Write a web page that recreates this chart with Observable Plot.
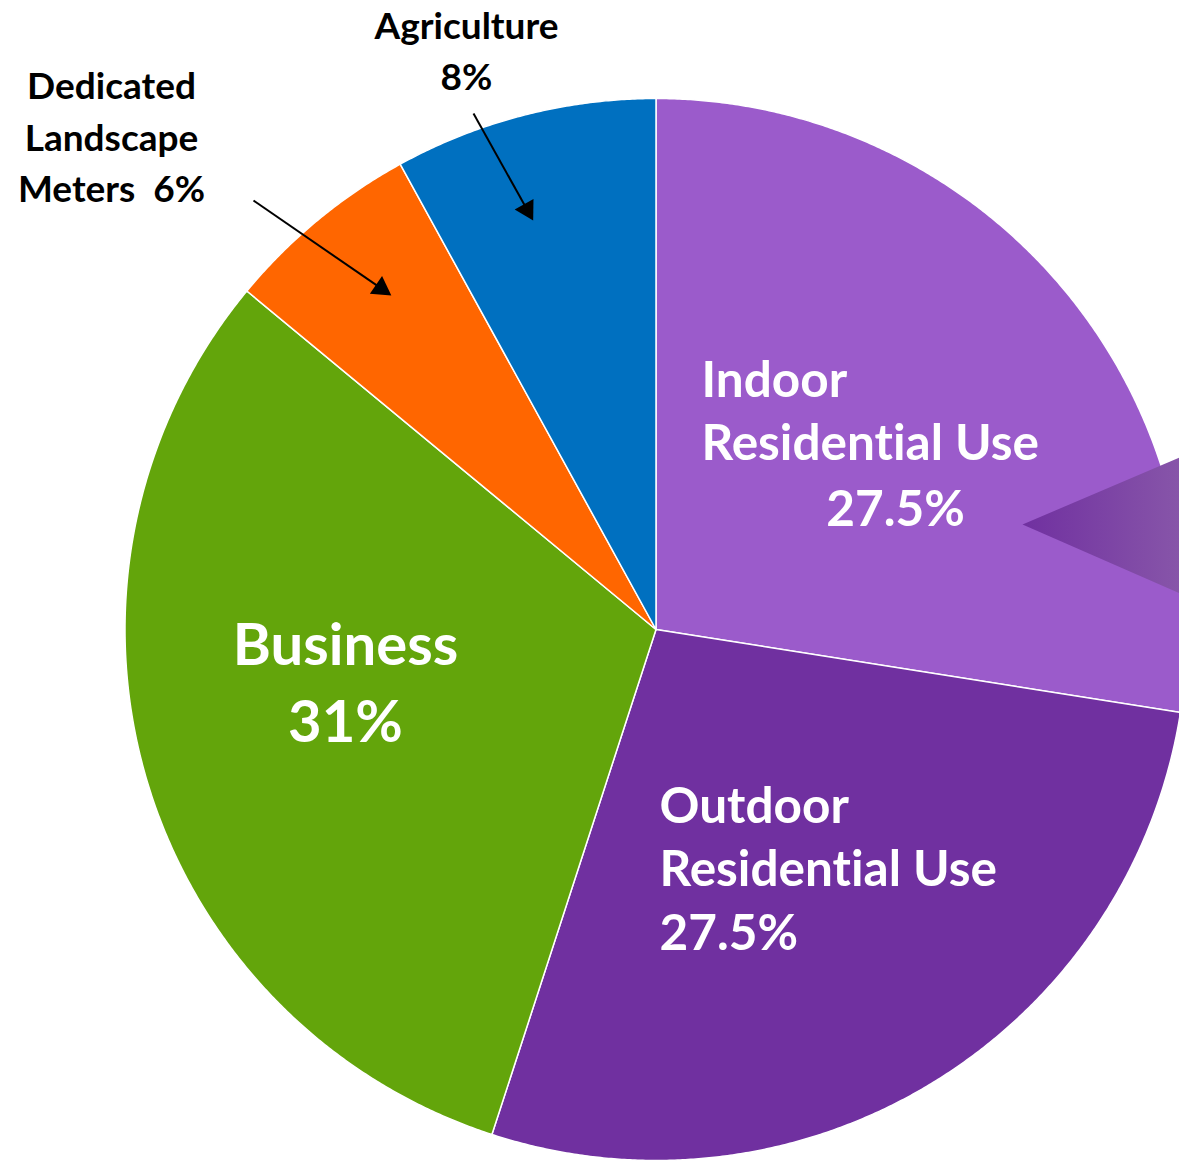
<!DOCTYPE html>
<html>
<head>
<meta charset="utf-8">
<script src="https://cdn.jsdelivr.net/npm/d3@7"></script>
<script src="https://cdn.jsdelivr.net/npm/@observablehq/plot@0.6"></script>
<style>
  html, body { margin: 0; padding: 0; background: #fff; }
  #chart svg { display: block; }
  #chart svg text { font-variant-ligatures: none; font-feature-settings: "liga" 0, "clig" 0, "dlig" 0; }
</style>
</head>
<body>
<div id="chart"></div>
<script>
// ---- data ----
const categories = ["Indoor Residential Use", "Outdoor Residential Use", "Business", "Dedicated Landscape Meters", "Agriculture"];
const shares = [27.5, 27.5, 31, 6, 8];
const sliceColors = ["#9B5BCB", "#7030A0", "#63A50B", "#FF6600", "#0070C0"];
const labelLines = [
  ["Indoor", "Residential Use", "27.5%"],
  ["Outdoor", "Residential Use", "27.5%"],
  ["Business", "31%"],
  ["Dedicated", "Landscape", "Meters  6%"],
  ["Agriculture", "8%"]
];

// ---- layout (pixels) ----
const W = 1179, H = 1161;
const CX = 655.5, CY = 629, R = 531;
const toX = px => (px - CX) / R;
const toY = py => (CY - py) / R;

const FONT = "Lato, 'Open Sans', sans-serif";

// label layout: per category, per line: [px, py, anchor]
const labelLayout = [
  {lines: [[701, 381, "start"], [701, 444, "start"], [895, 510, "middle"]], size: 49.5, color: "white"},
  {lines: [[659, 807, "start"], [659, 870, "start"], [659, 934, "start"]], size: 49.5, color: "white"},
  {lines: [[345, 646, "middle"], [345, 723, "middle"]], size: 58, color: "white"},
  {lines: [[111, 87, "middle"], [111, 139, "middle"], [111, 190, "middle"]], size: 37, color: "black"},
  {lines: [[466, 27, "middle"], [466, 78, "middle"]], size: 37, color: "black"}
];

// ---- slice polygons ----
const arcs = d3.pie().sort(null).value((d, i) => shares[i]).startAngle(0).endAngle(2 * Math.PI)(categories);
const slicePts = [];
arcs.forEach(a => {
  slicePts.push({cat: a.data, x: 0, y: 0});
  const n = Math.max(8, Math.ceil((a.endAngle - a.startAngle) / 0.005));
  for (let k = 0; k <= n; k++) {
    const t = a.startAngle + (a.endAngle - a.startAngle) * k / n;
    slicePts.push({cat: a.data, x: Math.sin(t), y: Math.cos(t)});
  }
});

// decorative callout triangle (pixels)
const tri = [[1022, 524], [1200, 448], [1200, 602]].map(([px, py]) => ({x: toX(px), y: toY(py)}));

// text rows
const textRows = [];
labelLines.forEach((lines, i) => {
  const L = labelLayout[i];
  lines.forEach((t, j) => {
    const [px, py, anchor] = L.lines[j];
    textRows.push({text: t, x: toX(px), y: toY(py), anchor, size: L.size, color: L.color});
  });
});

// arrows (pixels)
const arrowsPx = [
  {x1: 473, y1: 113, x2: 531, y2: 217},
  {x1: 253, y1: 200, x2: 388, y2: 293}
];
const arrowRows = arrowsPx.map(a => {
  const dx = a.x2 - a.x1, dy = a.y2 - a.y1;
  const len = Math.hypot(dx, dy);
  const ux = dx / len, uy = dy / len;
  const back = 9;
  return {
    x1: toX(a.x1), y1: toY(a.y1),
    x2: toX(a.x2 - ux * 12), y2: toY(a.y2 - uy * 12),
    hx: toX(a.x2 - ux * back), hy: toY(a.y2 - uy * back),
    rot: Math.atan2(dx, -dy) * 180 / Math.PI
  };
});

const marks = [
  Plot.line(slicePts, {x: "x", y: "y", z: "cat", fill: "cat", stroke: "white", strokeWidth: 1.5, curve: "linear-closed"}),
  Plot.line(tri, {x: "x", y: "y", fill: "url(#triGrad)", stroke: "none", curve: "linear-closed"}),
  Plot.link(arrowRows, {x1: "x1", y1: "y1", x2: "x2", y2: "y2", stroke: "black", strokeWidth: 2}),
  Plot.dot(arrowRows, {x: "hx", y: "hy", symbol: "triangle", r: 8, fill: "black", stroke: "none", rotate: "rot"})
];
// text marks grouped by style
const styles = d3.groups(textRows, d => d.size + "|" + d.color + "|" + d.anchor);
styles.forEach(([key, rows]) => {
  marks.push(Plot.text(rows, {
    x: "x", y: "y", text: "text",
    textAnchor: rows[0].anchor,
    fontSize: rows[0].size,
    fontWeight: "bold",
    fontFamily: FONT,
    fill: rows[0].color
  }));
});

const chart = Plot.plot({
  width: W, height: H,
  margin: 0,
  x: {domain: [toX(0), toX(W)], range: [0, W], axis: null},
  y: {domain: [toY(H), toY(0)], range: [H, 0], axis: null},
  color: {domain: categories, range: sliceColors},
  style: {background: "white", overflow: "hidden"},
  marks
});

// gradient for the callout triangle
const ns = "http://www.w3.org/2000/svg";
const defs = document.createElementNS(ns, "defs");
const grad = document.createElementNS(ns, "linearGradient");
grad.setAttribute("id", "triGrad");
grad.setAttribute("x1", "0"); grad.setAttribute("x2", "1");
grad.setAttribute("y1", "0"); grad.setAttribute("y2", "0");
[["0", "#7030A0"], ["1", "#8A5AAA"]].forEach(([o, c]) => {
  const s = document.createElementNS(ns, "stop");
  s.setAttribute("offset", o); s.setAttribute("stop-color", c);
  grad.appendChild(s);
});
defs.appendChild(grad);
chart.insertBefore(defs, chart.firstChild);

document.getElementById("chart").appendChild(chart);
</script>
</body>
</html>
